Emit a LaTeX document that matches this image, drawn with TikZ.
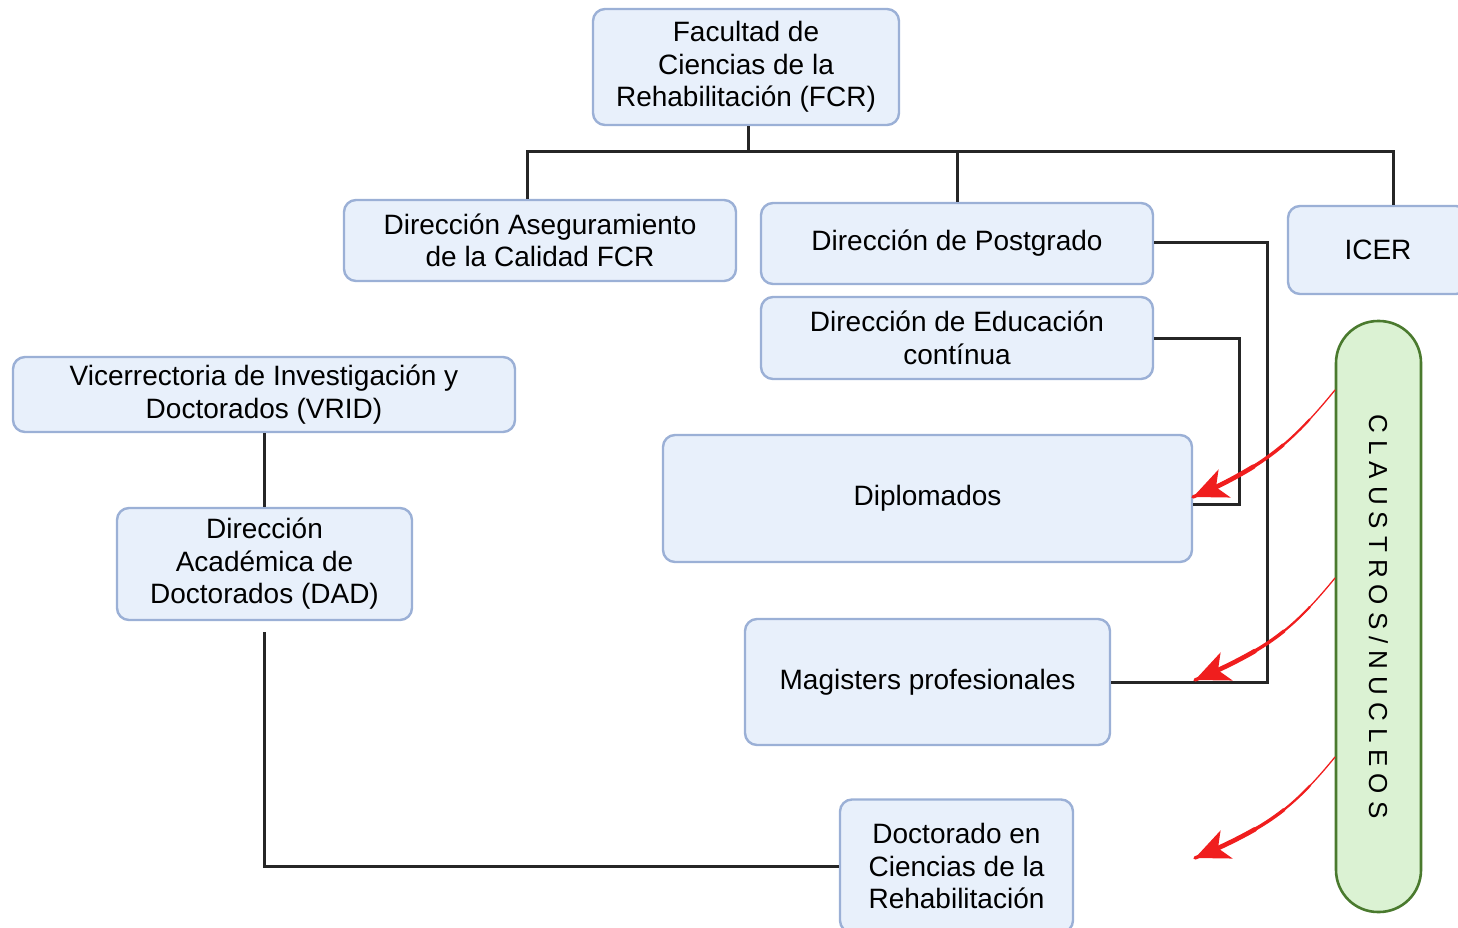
\documentclass[tikz,border=0pt]{standalone}
\usepackage{fontspec}
\setmainfont{Liberation Sans}
\usetikzlibrary{arrows.meta,calc}
\definecolor{boxfill}{RGB}{232,240,251}
\definecolor{boxline}{RGB}{155,176,214}
\definecolor{pillfill}{RGB}{219,242,211}
\definecolor{pillline}{RGB}{74,122,46}
\definecolor{arrred}{RGB}{240,30,30}
\begin{document}
\begin{tikzpicture}[x=1pt,y=-1pt,
  box/.style={draw=boxline, fill=boxfill, line width=2.4pt, rounded corners=12pt,
    align=center, inner sep=0pt, font=\fontsize{28}{32.5}\selectfont},
  conn/.style={draw=black!85, line width=3pt},
  redthin/.style={draw=arrred, line width=1.3pt, line cap=round},
  redsega/.style={draw=arrred, line width=2.2pt, line cap=round},
  redsegb/.style={draw=arrred, line width=3.4pt, line cap=round},
  redarr/.style={draw=arrred, line width=4.6pt, line cap=round,
    -{Stealth[length=34pt,width=30pt,inset=9pt]}}
]
\useasboundingbox (0,0) rectangle (1458,928);

\node[box, minimum width=306pt, minimum height=116pt] (fcr) at (746,67)
  {Facultad de\\Ciencias de la\\Rehabilitación (FCR)};
\node[box, minimum width=392pt, minimum height=81pt] (aseg) at (540,240.5)
  {Dirección Aseguramiento\\de la Calidad FCR};
\node[box, minimum width=392pt, minimum height=81pt] (post) at (957,243.5)
  {Dirección de Postgrado};
\node[box, minimum width=180pt, minimum height=88pt] (icer) at (1378,250)
  {ICER};
\node[box, minimum width=392pt, minimum height=82pt] (educ) at (957,338)
  {Dirección de Educación\\contínua};
\node[box, minimum width=502pt, minimum height=75pt] (vrid) at (264,394.5)
  {Vicerrectoria de Investigación y\\Doctorados (VRID)};
\node[box, minimum width=295pt, minimum height=112pt] (dad) at (264.5,564)
  {Dirección\\Académica de\\Doctorados (DAD)};
\node[box, minimum width=529pt, minimum height=127pt] (dipl) at (927.5,498.5)
  {Diplomados};
\node[box, minimum width=365pt, minimum height=126pt] (mag) at (927.5,682)
  {Magisters profesionales};
\node[box, minimum width=233pt, minimum height=133pt] (doc) at (956.5,866)
  {Doctorado en\\Ciencias de la\\Rehabilitación};

\node[draw=pillline, fill=pillfill, line width=2.6pt, rounded corners=42pt,
  minimum width=85pt, minimum height=591pt, inner sep=0pt] (pill) at (1378.5,616.5) {};
\node[rotate=-90, font=\fontsize{26}{28}\selectfont\addfontfeatures{LetterSpace=27}] (pilltext) at (pill.center)
  {CLAUSTROS/NUCLEOS};

% tree connectors
\coordinate (hl) at (527,152);
\coordinate (hr) at (1393,152);
\draw[conn] (fcr.south -| 748,0) -- (748,152);
\draw[conn] (aseg.north -| hl) -- (hl) -- (hr) -- (icer.north -| hr);
\draw[conn] (post.north) -- (post.north |- hl);

\coordinate (pr) at (1267,242);
\coordinate (er) at (1239,338);
\draw[conn] (post.east |- pr) -- (pr) -- (pr |- mag.east) -- (mag.east);
\draw[conn] (educ.east |- er) -- (er) -- (1239,504) -- (dipl.east |- 0,504);

\draw[conn] (vrid.south) -- (vrid.south |- dad.north);
\coordinate (dd) at (264,866);
\draw[conn] (264,632) -- (dd) -- (doc.west |- dd);

% red arrows (tapered: sub-curves of the same Bezier drawn thicker towards the tip)
\coordinate (a1) at (1335,390);
\coordinate (b1) at (1193,497);
\coordinate (a2) at (1335,578);
\coordinate (b2) at (1195,680);
\coordinate (a3) at (1335,757);
\coordinate (b3) at (1195,858);
\foreach \s/\e in {a1/b1,a2/b2,a3/b3}{
  \coordinate (P0) at (\s);
  \coordinate (P1) at ($(\s)+(-45,55)$);
  \coordinate (P2) at ($(\e)+(70,-30)$);
  \coordinate (P3) at (\e);
  \draw[redthin] (P0) .. controls (P1) and (P2) .. (P3);
  \foreach \t/\sty in {0.2/redsega,0.42/redsegb,0.65/redarr}{
    \coordinate (Q01) at ($(P0)!\t!(P1)$);
    \coordinate (Q12) at ($(P1)!\t!(P2)$);
    \coordinate (Q23) at ($(P2)!\t!(P3)$);
    \coordinate (Q012) at ($(Q01)!\t!(Q12)$);
    \coordinate (Q123) at ($(Q12)!\t!(Q23)$);
    \coordinate (B) at ($(Q012)!\t!(Q123)$);
    \draw[\sty] (B) .. controls (Q123) and (Q23) .. (P3);
  }
}
\end{tikzpicture}
\end{document}
